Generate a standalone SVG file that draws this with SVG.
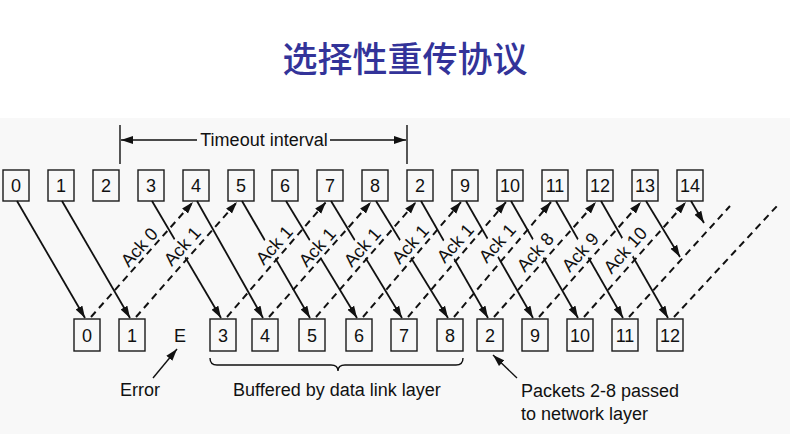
<svg xmlns="http://www.w3.org/2000/svg" width="790" height="434" viewBox="0 0 790 434">
<style>
  .box { fill: none; stroke: #1a1a1a; stroke-width: 1.4; }
  .num { font-family: "Liberation Sans", Arial, sans-serif; font-size: 18px; fill: #111; text-anchor: middle; }
  .lbl { font-family: "Liberation Sans", Arial, sans-serif; font-size: 18px; fill: #111; }
  .ack { font-family: "Liberation Sans", Arial, sans-serif; font-size: 18px; fill: #111; text-anchor: middle; }
  .mask { fill: #f8f8f8; stroke: none; }
  .solid { stroke: #111; stroke-width: 1.8; fill: none; }
  .dash { stroke: #111; stroke-width: 2; fill: none; stroke-dasharray: 7 5; }
  .thin { stroke: #111; stroke-width: 1.4; fill: none; }
</style>
<defs>
  <marker id="ah" markerUnits="userSpaceOnUse" markerWidth="13" markerHeight="9" refX="12" refY="4.5" orient="auto">
    <path d="M0,0.6 L12,4.5 L0,8.4 z" fill="#111"/>
  </marker>
</defs>
<rect x="0" y="0" width="790" height="434" fill="#ffffff"/>
<rect x="0" y="118" width="790" height="316" fill="#f8f8f8"/>

<text x="405" y="72" font-family="Noto Sans CJK SC, sans-serif" font-size="35" font-weight="500" fill="#333399" text-anchor="middle">选择性重传协议</text>

<g id="timeout">
  <line class="thin" x1="120" y1="125" x2="120" y2="164"/>
  <line class="thin" x1="407" y1="125" x2="407" y2="164"/>
  <line class="thin" x1="197" y1="140" x2="121" y2="140" marker-end="url(#ah)"/>
  <line class="thin" x1="330" y1="140" x2="406" y2="140" marker-end="url(#ah)"/>
  <text class="lbl" x="264" y="146" text-anchor="middle">Timeout interval</text>
</g>

<g id="top-row">
  <g id="top-0"><rect class="box" x="3" y="170" width="26" height="31"/><text class="num" x="16" y="192">0</text></g>
  <g id="top-1"><rect class="box" x="48" y="170" width="26" height="31"/><text class="num" x="61" y="192">1</text></g>
  <g id="top-2"><rect class="box" x="93" y="170" width="26" height="31"/><text class="num" x="106" y="192">2</text></g>
  <g id="top-3"><rect class="box" x="138" y="170" width="26" height="31"/><text class="num" x="151" y="192">3</text></g>
  <g id="top-4"><rect class="box" x="183" y="170" width="26" height="31"/><text class="num" x="196" y="192">4</text></g>
  <g id="top-5"><rect class="box" x="228" y="170" width="26" height="31"/><text class="num" x="241" y="192">5</text></g>
  <g id="top-6"><rect class="box" x="272" y="170" width="26" height="31"/><text class="num" x="285" y="192">6</text></g>
  <g id="top-7"><rect class="box" x="317" y="170" width="26" height="31"/><text class="num" x="330" y="192">7</text></g>
  <g id="top-8"><rect class="box" x="362" y="170" width="26" height="31"/><text class="num" x="375" y="192">8</text></g>
  <g id="top-2b"><rect class="box" x="407" y="170" width="26" height="31"/><text class="num" x="420" y="192">2</text></g>
  <g id="top-9"><rect class="box" x="452" y="170" width="26" height="31"/><text class="num" x="465" y="192">9</text></g>
  <g id="top-10"><rect class="box" x="497" y="170" width="26" height="31"/><text class="num" x="510" y="192">10</text></g>
  <g id="top-11"><rect class="box" x="542" y="170" width="26" height="31"/><text class="num" x="555" y="192">11</text></g>
  <g id="top-12"><rect class="box" x="587" y="170" width="26" height="31"/><text class="num" x="600" y="192">12</text></g>
  <g id="top-13"><rect class="box" x="632" y="170" width="26" height="31"/><text class="num" x="645" y="192">13</text></g>
  <g id="top-14"><rect class="box" x="677" y="170" width="26" height="31"/><text class="num" x="690" y="192">14</text></g>
</g>

<g id="bottom-row">
  <g id="bot-0"><rect class="box" x="74" y="319" width="26" height="32"/><text class="num" x="87" y="342">0</text></g>
  <g id="bot-1"><rect class="box" x="119" y="319" width="26" height="32"/><text class="num" x="132" y="342">1</text></g>
  <g id="bot-E"><text class="num" x="180" y="342">E</text></g>
  <g id="bot-3"><rect class="box" x="210" y="319" width="26" height="32"/><text class="num" x="223" y="342">3</text></g>
  <g id="bot-4"><rect class="box" x="252" y="319" width="26" height="32"/><text class="num" x="265" y="342">4</text></g>
  <g id="bot-5"><rect class="box" x="299" y="319" width="26" height="32"/><text class="num" x="312" y="342">5</text></g>
  <g id="bot-6"><rect class="box" x="346" y="319" width="26" height="32"/><text class="num" x="359" y="342">6</text></g>
  <g id="bot-7"><rect class="box" x="391" y="319" width="26" height="32"/><text class="num" x="404" y="342">7</text></g>
  <g id="bot-8"><rect class="box" x="437" y="319" width="26" height="32"/><text class="num" x="450" y="342">8</text></g>
  <g id="bot-2b"><rect class="box" x="477" y="319" width="26" height="32"/><text class="num" x="490" y="342">2</text></g>
  <g id="bot-9"><rect class="box" x="522" y="319" width="26" height="32"/><text class="num" x="535" y="342">9</text></g>
  <g id="bot-10"><rect class="box" x="567" y="319" width="26" height="32"/><text class="num" x="580" y="342">10</text></g>
  <g id="bot-11"><rect class="box" x="612" y="319" width="26" height="32"/><text class="num" x="625" y="342">11</text></g>
  <g id="bot-12"><rect class="box" x="657" y="319" width="26" height="32"/><text class="num" x="670" y="342">12</text></g>
</g>

<g id="connectors">
  <g id="frames">
    <line class="solid" x1="17" y1="201" x2="85" y2="318" marker-end="url(#ah)"/>
    <line class="solid" x1="62" y1="201" x2="130" y2="318" marker-end="url(#ah)"/>
    <line class="solid" x1="152" y1="201" x2="221" y2="318" marker-end="url(#ah)"/>
    <line class="solid" x1="197" y1="201" x2="263" y2="318" marker-end="url(#ah)"/>
    <line class="solid" x1="242" y1="201" x2="310" y2="318" marker-end="url(#ah)"/>
    <line class="solid" x1="286" y1="201" x2="357" y2="318" marker-end="url(#ah)"/>
    <line class="solid" x1="331" y1="201" x2="402" y2="318" marker-end="url(#ah)"/>
    <line class="solid" x1="376" y1="201" x2="448" y2="318" marker-end="url(#ah)"/>
    <line class="solid" x1="421" y1="201" x2="488" y2="318" marker-end="url(#ah)"/>
    <line class="solid" x1="466" y1="201" x2="533" y2="318" marker-end="url(#ah)"/>
    <line class="solid" x1="511" y1="201" x2="578" y2="318" marker-end="url(#ah)"/>
    <line class="solid" x1="556" y1="201" x2="623" y2="318" marker-end="url(#ah)"/>
    <line class="solid" x1="601" y1="201" x2="668" y2="318" marker-end="url(#ah)"/>
    <line class="solid" x1="646" y1="201" x2="680" y2="257" marker-end="url(#ah)"/>
    <line class="solid" x1="691" y1="201" x2="704" y2="223" marker-end="url(#ah)"/>
  </g>
  <g id="ack-labels">
    <g transform="translate(139,247) rotate(-48)"><rect class="mask" x="-24" y="-10" width="48" height="20"/><text class="ack" y="6.5">Ack 0</text></g>
    <g transform="translate(182,246) rotate(-48)"><rect class="mask" x="-24" y="-10" width="48" height="20"/><text class="ack" y="6.5">Ack 1</text></g>
    <g transform="translate(274,245) rotate(-48)"><rect class="mask" x="-24" y="-10" width="48" height="20"/><text class="ack" y="6.5">Ack 1</text></g>
    <g transform="translate(317,247) rotate(-48)"><rect class="mask" x="-24" y="-10" width="48" height="20"/><text class="ack" y="6.5">Ack 1</text></g>
    <g transform="translate(362,247) rotate(-48)"><rect class="mask" x="-24" y="-10" width="48" height="20"/><text class="ack" y="6.5">Ack 1</text></g>
    <g transform="translate(410,244) rotate(-48)"><rect class="mask" x="-24" y="-10" width="48" height="20"/><text class="ack" y="6.5">Ack 1</text></g>
    <g transform="translate(455,243) rotate(-48)"><rect class="mask" x="-24" y="-10" width="48" height="20"/><text class="ack" y="6.5">Ack 1</text></g>
    <g transform="translate(497,243) rotate(-48)"><rect class="mask" x="-24" y="-10" width="48" height="20"/><text class="ack" y="6.5">Ack 1</text></g>
    <g transform="translate(535,252) rotate(-48)"><rect class="mask" x="-24" y="-10" width="48" height="20"/><text class="ack" y="6.5">Ack 8</text></g>
    <g transform="translate(580,252) rotate(-48)"><rect class="mask" x="-24" y="-10" width="48" height="20"/><text class="ack" y="6.5">Ack 9</text></g>
    <g transform="translate(625,250) rotate(-48)"><rect class="mask" x="-29" y="-10" width="58" height="20"/><text class="ack" y="6.5">Ack 10</text></g>
  </g>
  <g id="acks">
    <line class="dash" x1="91" y1="317" x2="193" y2="202" marker-end="url(#ah)"/>
    <line class="dash" x1="136" y1="317" x2="237" y2="202" marker-end="url(#ah)"/>
    <line class="dash" x1="227" y1="317" x2="326" y2="202" marker-end="url(#ah)"/>
    <line class="dash" x1="269" y1="317" x2="371" y2="202" marker-end="url(#ah)"/>
    <line class="dash" x1="316" y1="317" x2="416" y2="202" marker-end="url(#ah)"/>
    <line class="dash" x1="363" y1="317" x2="461" y2="202" marker-end="url(#ah)"/>
    <line class="dash" x1="408" y1="317" x2="506" y2="202" marker-end="url(#ah)"/>
    <line class="dash" x1="454" y1="317" x2="551" y2="202" marker-end="url(#ah)"/>
    <line class="dash" x1="494" y1="317" x2="596" y2="202" marker-end="url(#ah)"/>
    <line class="dash" x1="539" y1="317" x2="641" y2="202" marker-end="url(#ah)"/>
    <line class="dash" x1="584" y1="317" x2="686" y2="202" marker-end="url(#ah)"/>
    <line class="dash" x1="629" y1="317" x2="730" y2="206"/>
    <line class="dash" x1="674" y1="317" x2="777" y2="206"/>
  </g>
  <g id="annotations">
    <line class="thin" x1="153" y1="378" x2="177" y2="349" marker-end="url(#ah)"/>
    <line class="thin" x1="517" y1="378" x2="493" y2="355" marker-end="url(#ah)"/>
    <path class="thin" d="M210,358 Q210,365 217,365 L331,365 Q338,365 338,371 Q338,365 345,365 L456,365 Q463,365 463,358"/>
  </g>
</g>

<g id="bottom-labels">
  <text class="lbl" x="120" y="396">Error</text>
  <text class="lbl" x="233" y="396">Buffered by data link layer</text>
  <text class="lbl" x="521" y="397">Packets 2-8 passed</text>
  <text class="lbl" x="521" y="420">to network layer</text>
</g>
</svg>
